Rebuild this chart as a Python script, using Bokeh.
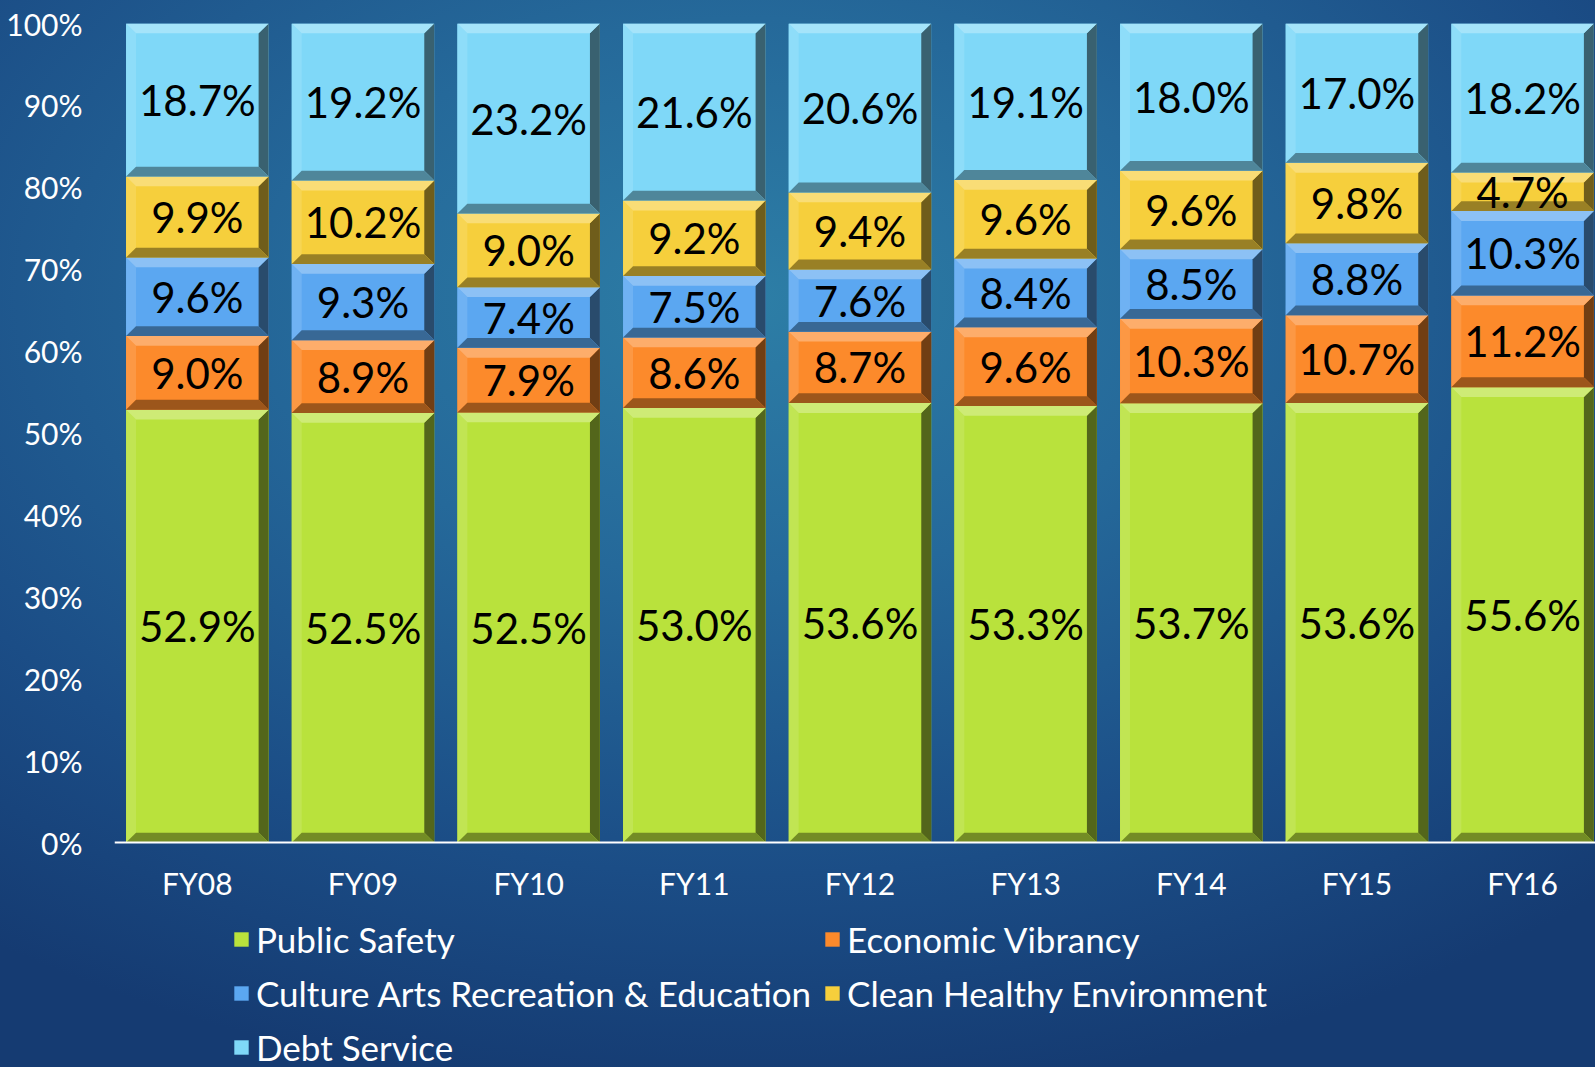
from bokeh.plotting import figure
from bokeh.models import (Legend, LegendItem, PrintfTickFormatter, FixedTicker,
                          Range1d, GlobalInlineStyleSheet, ColumnDataSource)
from bokeh.core.properties import value
from bokeh.embed import file_html
from bokeh.resources import INLINE

years = ["FY08", "FY09", "FY10", "FY11", "FY12", "FY13", "FY14", "FY15", "FY16"]
public_safety = [52.9, 52.5, 52.5, 53.0, 53.6, 53.3, 53.7, 53.6, 55.6]
economic_vibrancy = [9.0, 8.9, 7.9, 8.6, 8.7, 9.6, 10.3, 10.7, 11.2]
culture_arts = [9.6, 9.3, 7.4, 7.5, 7.6, 8.4, 8.5, 8.8, 10.3]
clean_healthy = [9.9, 10.2, 9.0, 9.2, 9.4, 9.6, 9.6, 9.8, 4.7]
debt_service = [18.7, 19.2, 23.2, 21.6, 20.6, 19.1, 18.0, 17.0, 18.2]
y_ticks = [0, 10, 20, 30, 40, 50, 60, 70, 80, 90, 100]

series = [
    ("Public Safety", public_safety, "#b9e23c"),
    ("Economic Vibrancy", economic_vibrancy, "#fc8a2b"),
    ("Culture Arts Recreation & Education", culture_arts, "#5ba7f1"),
    ("Clean Healthy Environment", clean_healthy, "#f6cf3c"),
    ("Debt Service", debt_service, "#7fd8f8"),
]
# legend is filled column by column (3 rows, 2 columns)
legend_order = ["Public Safety", "Culture Arts Recreation & Education", "Debt Service",
                "Economic Vibrancy", "Clean Healthy Environment"]

FONT = "Lato"
W, H = 1595, 1067
TOP, ZERO, LEFT = 23, 842, 114


def mix(hexc, other, t):
    a = [int(hexc[i:i + 2], 16) for i in (1, 3, 5)]
    b = [int(other[i:i + 2], 16) for i in (1, 3, 5)]
    c = [round(a[k] + (b[k] - a[k]) * t) for k in range(3)]
    return "#%02x%02x%02x" % tuple(c)


css = """
html { background: radial-gradient(ellipse 80% 75% at 47% 28%, #2d7ea6 0%, #25699a 35%, #1b4d86 72%, #153b72 100%) fixed; min-height: 100%; }
body { background: transparent; }
"""

y_start = -100.0 * (H - ZERO) / (ZERO - TOP)
p = figure(width=W, height=H, output_backend="svg", toolbar_location=None,
           x_range=Range1d(-0.5, 8.44), y_range=Range1d(y_start, 100),
           min_border_left=LEFT, min_border_right=0, min_border_top=TOP, min_border_bottom=0)
p.stylesheets = [GlobalInlineStyleSheet(css=css)]
p.background_fill_alpha = 0
p.border_fill_alpha = 0
p.outline_line_color = None
p.xgrid.visible = False
p.ygrid.visible = False

totals = [sum(s[1][i] for s in series) for i in range(len(years))]
xs = list(range(len(years)))
hw = 0.43
bx = 0.06
by = 1.2

bottoms = [0.0] * len(years)
renderers = {}
for name, vals, col in series:
    pct = [v / t * 100 for v, t in zip(vals, totals)]
    tops = [b + v for b, v in zip(bottoms, pct)]
    src = ColumnDataSource(dict(x=xs, bottom=bottoms, top=tops,
                                left=[x - hw for x in xs], right=[x + hw for x in xs],
                                mid=[(b + t) / 2 for b, t in zip(bottoms, tops)],
                                label=["%.1f%%" % v for v in vals]))
    r = p.quad(left="left", right="right", bottom="bottom", top="top", source=src,
               fill_color=col, line_color=None)
    renderers[name] = r
    top_xs, top_ys, bot_xs, bot_ys, l_xs, l_ys, r_xs, r_ys = [], [], [], [], [], [], [], []
    for x, b, t in zip(xs, bottoms, tops):
        L, R = x - hw, x + hw
        top_xs.append([L, R, R - bx, L + bx]); top_ys.append([t, t, t - by, t - by])
        bot_xs.append([L, R, R - bx, L + bx]); bot_ys.append([b, b, b + by, b + by])
        l_xs.append([L, L + bx, L + bx, L]); l_ys.append([b, b + by, t - by, t])
        r_xs.append([R, R - bx, R - bx, R]); r_ys.append([b, b + by, t - by, t])
    p.patches(l_xs, l_ys, fill_color=mix(col, "#ffffff", 0.12), line_color=None)
    p.patches(r_xs, r_ys, fill_color=mix(col, "#000000", 0.55), line_color=None)
    p.patches(top_xs, top_ys, fill_color=mix(col, "#ffffff", 0.3), line_color=None)
    p.patches(bot_xs, bot_ys, fill_color=mix(col, "#000000", 0.38), line_color=None)
    p.text(x="x", y="mid", text="label", source=src, text_align="center",
           text_baseline="middle", text_font=value(FONT), text_font_size="42px",
           text_color="#000000")
    bottoms = tops

p.yaxis.ticker = FixedTicker(ticks=y_ticks)
p.yaxis.formatter = PrintfTickFormatter(format="%d%%")
p.yaxis.axis_line_color = None
p.yaxis.major_tick_line_color = None
p.yaxis.minor_tick_line_color = None
p.yaxis.major_label_text_color = "#ffffff"
p.yaxis.major_label_text_font = FONT
p.yaxis.major_label_text_font_size = "30px"
p.yaxis.major_label_standoff = 26

p.xaxis.fixed_location = 0
p.xaxis.ticker = FixedTicker(ticks=xs)
p.xaxis.major_label_overrides = {i: y for i, y in enumerate(years)}
p.xaxis.axis_line_color = "#ffffff"
p.xaxis.axis_line_width = 2
p.xaxis.major_tick_line_color = None
p.xaxis.minor_tick_line_color = None
p.xaxis.major_label_text_color = "#ffffff"
p.xaxis.major_label_text_font = FONT
p.xaxis.major_label_text_font_size = "30px"
p.xaxis.major_label_standoff = 16

items = [LegendItem(label=n, renderers=[renderers[n]]) for n in legend_order]
legend = Legend(items=items, ncols=2, location=(118, -1))
legend.background_fill_alpha = 0
legend.border_line_color = None
legend.label_text_color = "#ffffff"
legend.label_text_font = FONT
legend.label_text_font_size = "35px"
legend.label_height = 42
legend.glyph_height = 18
legend.glyph_width = 18
legend.label_standoff = 6
legend.spacing = 12
legend.padding = 0
legend.margin = 0
p.add_layout(legend, "center")

open("out.html", "w").write(file_html(p, INLINE))
